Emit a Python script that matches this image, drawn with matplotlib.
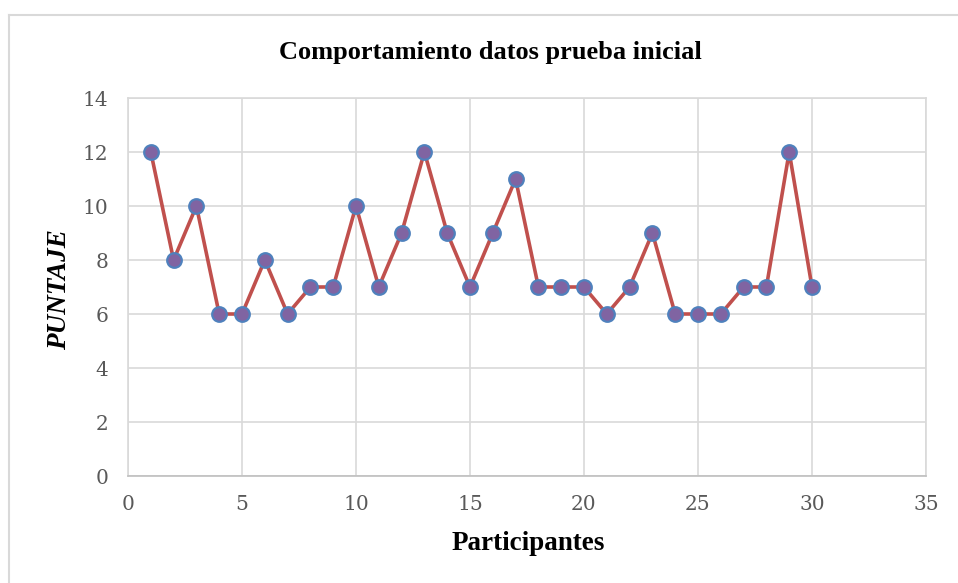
import matplotlib
matplotlib.use("Agg")
import matplotlib.pyplot as plt
from matplotlib.lines import Line2D

participantes = list(range(1, 31))
puntaje = [12, 8, 10, 6, 6, 8, 6, 7, 7, 10, 7, 9, 12, 9, 7, 9, 11, 7, 7, 7,
           6, 7, 9, 6, 6, 6, 7, 7, 12, 7]
x_ticks = [0, 5, 10, 15, 20, 25, 30, 35]
y_ticks = [0, 2, 4, 6, 8, 10, 12, 14]

fig = plt.figure(figsize=(9.58, 5.83), dpi=100)
fig.patch.set_facecolor("white")

# chart-area border (left and top edges visible)
fig.add_artist(Line2D([8.5 / 958, 8.5 / 958], [0, 1 - 14.5 / 583],
                      transform=fig.transFigure, color="#d9d9d9", lw=1.5))
fig.add_artist(Line2D([8.5 / 958, 1], [1 - 14.5 / 583, 1 - 14.5 / 583],
                      transform=fig.transFigure, color="#d9d9d9", lw=1.5))

ax = fig.add_axes([128 / 958, 1 - 476 / 583, (926 - 128) / 958, (476 - 98) / 583])
ax.set_xlim(0, 35)
ax.set_ylim(0, 14)
ax.set_xticks(x_ticks)
ax.set_yticks(y_ticks)
ax.grid(True, color="#d9d9d9", lw=1.2)
ax.set_axisbelow(True)
for side, sp in ax.spines.items():
    sp.set_color("#d9d9d9")
    sp.set_linewidth(1.2)
ax.spines["bottom"].set_color("#bfbfbf")
ax.tick_params(length=0, labelsize=14.5, labelcolor="#595959", pad=14,
               labelfontfamily="DejaVu Serif")

ax.plot(participantes, puntaje, color="#c0504d", lw=2.6, marker="o",
        markersize=10.5, markerfacecolor="#8064a2", markeredgecolor="#4f81bd",
        markeredgewidth=1.6, zorder=3)

fig.text(490 / 958, 1 - 52 / 583, "Comportamiento datos prueba inicial",
         ha="center", va="center", fontsize=19, fontweight="bold",
         family="Liberation Serif")
fig.text(528 / 958, 1 - 543 / 583, "Participantes", ha="center",
         va="center", fontsize=19.5, fontweight="bold",
         family="Liberation Serif")
fig.text(60 / 958, 1 - 290 / 583, "PUNTAJE", rotation=90, ha="center",
         va="center", fontsize=19.5, fontweight="bold", fontstyle="italic",
         family="Liberation Serif")

fig.savefig("out.png", dpi=100)
